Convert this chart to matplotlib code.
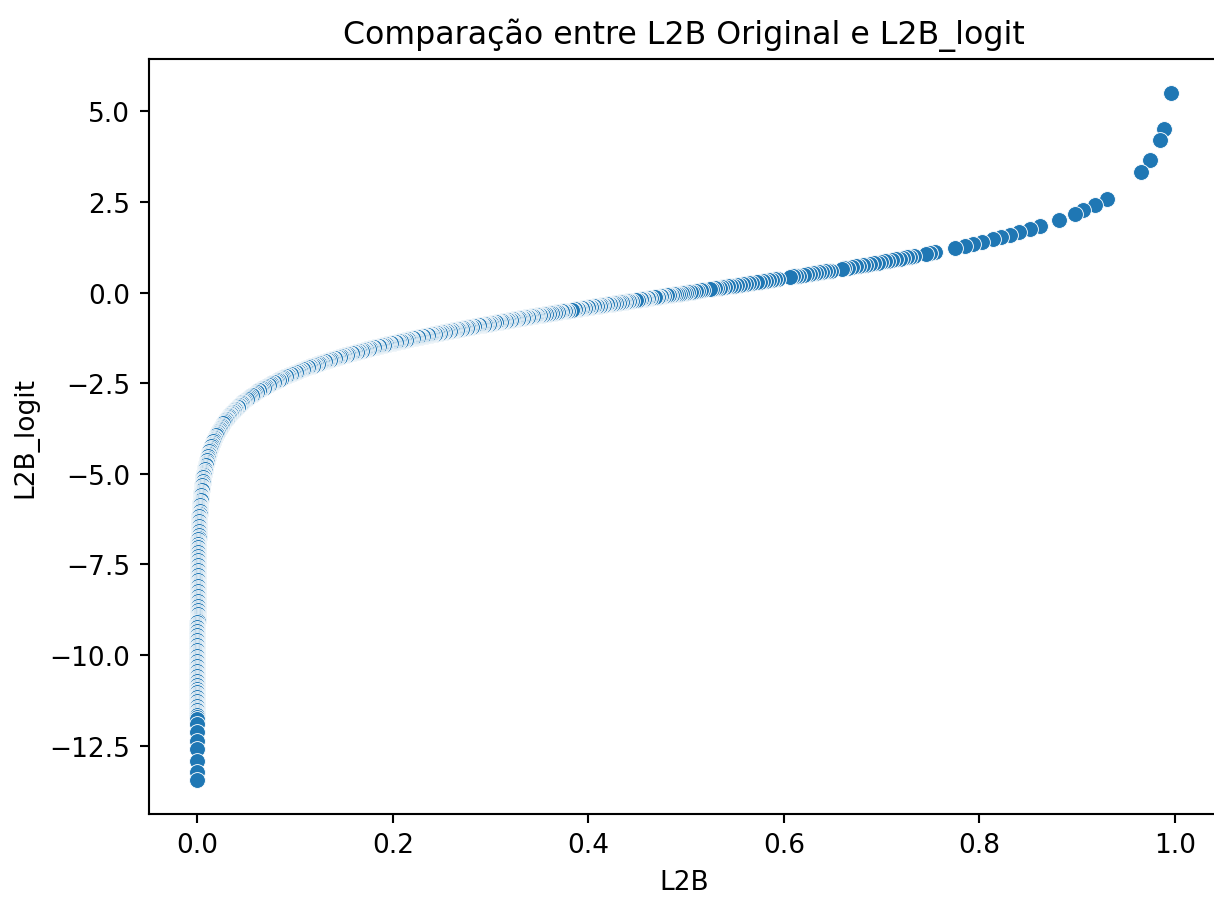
import matplotlib
matplotlib.use("Agg")
import matplotlib.pyplot as plt
import pandas as pd
import seaborn as sns

# Values, listed low to high.
# Near zero the curve is vertical, so the logit was read first there.
low_logit = [
    -13.44, -13.23, -12.92, -12.60, -12.37, -12.13, -11.90, -11.77,
    -11.70, -11.66, -11.63, -11.59, -11.56, -11.52, -11.49, -11.45, -11.42, -11.38, -11.35,
    -11.31, -11.28, -11.24, -11.21, -11.17, -11.14, -11.10, -11.07, -11.03, -11.00,
    -10.98, -10.94, -10.91, -10.87, -10.84, -10.80, -10.77, -10.73, -10.70, -10.66, -10.63, -10.59, -10.56, -10.52, -10.49,
    -10.45, -10.42, -10.38, -10.35, -10.31, -10.28, -10.24, -10.21, -10.17, -10.14, -10.10, -10.07, -10.03, -10.00,
    -9.98, -9.94, -9.91, -9.87, -9.84, -9.80, -9.77, -9.73, -9.70, -9.66, -9.63, -9.59, -9.56, -9.52, -9.49,
    -9.45, -9.42, -9.38, -9.35, -9.31, -9.28, -9.24, -9.21, -9.17, -9.14, -9.10, -9.07, -9.03, -9.00,
    -8.98, -8.94, -8.91, -8.87, -8.84, -8.80, -8.77, -8.73, -8.70, -8.66, -8.63, -8.59, -8.56, -8.52, -8.49,
    -8.45, -8.42, -8.38, -8.35, -8.31, -8.28, -8.24, -8.21, -8.17, -8.14, -8.10, -8.07, -8.03, -8.00,
    -7.98, -7.94, -7.91, -7.87, -7.84, -7.80, -7.77, -7.73, -7.70, -7.66, -7.63, -7.59, -7.56, -7.52, -7.49,
    -7.45, -7.42, -7.38, -7.35, -7.31, -7.28, -7.24, -7.21, -7.17, -7.14, -7.10, -7.07, -7.03, -7.00,
    -6.98, -6.94, -6.91, -6.87, -6.84, -6.80, -6.77, -6.73, -6.70, -6.66, -6.63, -6.59, -6.56, -6.52, -6.49,
    -6.45, -6.42, -6.38, -6.35, -6.31, -6.28, -6.24, -6.21, -6.17, -6.14, -6.10, -6.07, -6.03, -6.00,
    -5.98, -5.94, -5.91, -5.87, -5.84, -5.80, -5.77, -5.73, -5.70, -5.66, -5.63, -5.59, -5.56, -5.52, -5.49,
    -5.45, -5.42, -5.38, -5.35, -5.31, -5.28, -5.24, -5.21, -5.17, -5.14, -5.10, -5.07, -5.03, -5.00,
]
low_l2b = [
    0.00000146, 0.00000180, 0.00000245, 0.00000337, 0.00000424, 0.00000540, 0.00000679, 0.00000773,
    0.00000829, 0.00000863, 0.00000890, 0.00000926, 0.00000954, 0.00000993, 0.0000102, 0.0000106, 0.0000110, 0.0000114, 0.0000118,
    0.0000122, 0.0000126, 0.0000131, 0.0000135, 0.0000141, 0.0000145, 0.0000151, 0.0000156, 0.0000162, 0.0000167,
    0.0000170, 0.0000177, 0.0000183, 0.0000190, 0.0000196, 0.0000204, 0.0000210, 0.0000219, 0.0000225, 0.0000235, 0.0000242, 0.0000252, 0.0000259, 0.0000270, 0.0000278,
    0.0000289, 0.0000298, 0.0000310, 0.0000320, 0.0000333, 0.0000343, 0.0000357, 0.0000368, 0.0000383, 0.0000395, 0.0000411, 0.0000423, 0.0000441, 0.0000454,
    0.0000463, 0.0000482, 0.0000497, 0.0000517, 0.0000533, 0.0000555, 0.0000571, 0.0000595, 0.0000613, 0.0000638, 0.0000657, 0.0000684, 0.0000705, 0.0000734, 0.0000756,
    0.0000787, 0.0000811, 0.0000844, 0.0000870, 0.0000905, 0.0000933, 0.0000971, 0.0001000, 0.0001041, 0.0001073, 0.0001117, 0.0001151, 0.0001198, 0.0001234,
    0.0001259, 0.0001310, 0.0001350, 0.0001405, 0.0001448, 0.0001507, 0.0001553, 0.0001617, 0.0001666, 0.0001734, 0.0001787, 0.0001860, 0.0001916, 0.0001994, 0.0002055,
    0.0002139, 0.0002204, 0.0002294, 0.0002364, 0.0002460, 0.0002535, 0.0002639, 0.0002719, 0.0002830, 0.0002916, 0.0003035, 0.0003128, 0.0003255, 0.0003355,
    0.0003422, 0.0003562, 0.0003671, 0.0003820, 0.0003937, 0.0004097, 0.0004222, 0.0004394, 0.0004528, 0.0004713, 0.0004857, 0.0005055, 0.0005209, 0.0005421, 0.0005586,
    0.0005814, 0.0005991, 0.0006236, 0.0006426, 0.0006688, 0.0006892, 0.0007173, 0.0007392, 0.0007693, 0.0007928, 0.0008251, 0.0008502, 0.0008849, 0.0009111,
    0.0009294, 0.0009673, 0.0009968, 0.0010374, 0.0010690, 0.0011125, 0.0011464, 0.0011931, 0.0012294, 0.0012795, 0.0013184, 0.0013722, 0.0014139, 0.0014715, 0.0015162,
    0.0015780, 0.0016260, 0.0016923, 0.0017437, 0.0018147, 0.0018699, 0.0019461, 0.0020052, 0.0020869, 0.0021503, 0.0022378, 0.0023059, 0.0023997, 0.0024726,
    0.0025224, 0.0026251, 0.0027049, 0.0028149, 0.0029004, 0.0030184, 0.0031101, 0.0032366, 0.0033348, 0.0034704, 0.0035757, 0.0037211, 0.0038340, 0.0039899, 0.0041109,
    0.0042779, 0.0044076, 0.0045867, 0.0047257, 0.0049176, 0.0050666, 0.0052722, 0.0054319, 0.0056524, 0.0058235, 0.0060598, 0.0062432, 0.0064963, 0.0066929,
]

# the bend, logit -5 to -3
bend_logit = [
    -4.98, -4.94, -4.91, -4.87, -4.84, -4.80, -4.77, -4.73, -4.70, -4.66, -4.63, -4.59, -4.56, -4.52, -4.49,
    -4.45, -4.42, -4.38, -4.35, -4.31, -4.28, -4.24, -4.21, -4.17, -4.14, -4.10, -4.07, -4.03, -4.00,
    -3.97, -3.94, -3.91, -3.88, -3.85, -3.82, -3.79, -3.76, -3.73, -3.70, -3.67, -3.64, -3.61, -3.58, -3.55, -3.52,
    -3.50, -3.48, -3.46, -3.43, -3.41, -3.39, -3.37, -3.35, -3.33, -3.30, -3.28, -3.26,
    -3.24, -3.22, -3.20, -3.18, -3.15, -3.13, -3.11, -3.09, -3.07, -3.05, -3.03, -3.01,
]
bend_l2b = [
    0.0068271, 0.0071038, 0.0073185, 0.0076149, 0.0078450, 0.0081626, 0.0084091, 0.0087492, 0.0090133, 0.0093777,
    0.0096605, 0.0100508, 0.0103537, 0.0107717, 0.0110961,
    0.0115437, 0.0118911, 0.0123704, 0.0127423, 0.0132554, 0.0136536, 0.0142029, 0.0146291, 0.0152171, 0.0156732,
    0.0163025, 0.0167906, 0.0174639, 0.0179862,
    0.0185239, 0.0190772, 0.0196468, 0.0202330, 0.0208364, 0.0214573, 0.0220964, 0.0227539, 0.0234306, 0.0241269,
    0.0248436, 0.0255808, 0.0263394, 0.0271198, 0.0279226, 0.0287485,
    0.0293122, 0.0298867, 0.0304721, 0.0313709, 0.0319845, 0.0326095, 0.0332462, 0.0338954, 0.0345563, 0.0355710,
    0.0362637, 0.0369692,
    0.0376873, 0.0384199, 0.0391657, 0.0399251, 0.0410913, 0.0418866, 0.0426965, 0.0435217, 0.0443617, 0.0452176,
    0.0460891, 0.0469766,
]

# dense middle stretch, L2B 0.048 to 0.35
mid_l2b = [
    0.0480, 0.0490, 0.0505, 0.0515, 0.0530, 0.0540, 0.0555, 0.0565, 0.0580, 0.0590,
    0.0605, 0.0615, 0.0630, 0.0640, 0.0655, 0.0665, 0.0680, 0.0690, 0.0705, 0.0715,
    0.0730, 0.0740, 0.0755, 0.0765, 0.0780, 0.0790, 0.0805, 0.0815, 0.0830, 0.0840,
    0.0855, 0.0865, 0.0880, 0.0890, 0.0905, 0.0915, 0.0930, 0.0940, 0.0955, 0.0965,
    0.0980, 0.0990, 0.1005, 0.1015, 0.1030, 0.1040, 0.1055, 0.1065, 0.1080, 0.1090,
    0.1105, 0.1115, 0.1130, 0.1140, 0.1155, 0.1165, 0.1180, 0.1190, 0.1205, 0.1215,
    0.1230, 0.1240, 0.1255, 0.1265, 0.1280, 0.1290, 0.1305, 0.1315, 0.1330, 0.1340,
    0.1355, 0.1365, 0.1380, 0.1390, 0.1405, 0.1415, 0.1430, 0.1440, 0.1455, 0.1465,
    0.1480, 0.1490, 0.1505, 0.1515, 0.1530, 0.1540, 0.1555, 0.1565, 0.1580, 0.1590,
    0.1605, 0.1615, 0.1630, 0.1640, 0.1655, 0.1665, 0.1680, 0.1690, 0.1705, 0.1715,
    0.1730, 0.1740, 0.1755, 0.1765, 0.1780, 0.1790, 0.1805, 0.1815, 0.1830, 0.1840,
    0.1855, 0.1865, 0.1880, 0.1890, 0.1905, 0.1915, 0.1930, 0.1940, 0.1955, 0.1965,
    0.1980, 0.1990, 0.2005, 0.2015, 0.2030, 0.2040, 0.2055, 0.2065, 0.2080, 0.2090,
    0.2105, 0.2115, 0.2130, 0.2140, 0.2155, 0.2165, 0.2180, 0.2190, 0.2205, 0.2215,
    0.2230, 0.2240, 0.2255, 0.2265, 0.2280, 0.2290, 0.2305, 0.2315, 0.2330, 0.2340,
    0.2355, 0.2365, 0.2380, 0.2390, 0.2405, 0.2415, 0.2430, 0.2440, 0.2455, 0.2465,
    0.2480, 0.2490, 0.2505, 0.2515, 0.2530, 0.2540, 0.2555, 0.2565, 0.2580, 0.2590,
    0.2605, 0.2615, 0.2630, 0.2640, 0.2655, 0.2665, 0.2680, 0.2690, 0.2705, 0.2715,
    0.2730, 0.2740, 0.2755, 0.2765, 0.2780, 0.2790, 0.2805, 0.2815, 0.2830, 0.2840,
    0.2855, 0.2865, 0.2880, 0.2890, 0.2905, 0.2915, 0.2930, 0.2940, 0.2955, 0.2965,
    0.2980, 0.2990, 0.3005, 0.3015, 0.3030, 0.3040, 0.3055, 0.3065, 0.3080, 0.3090,
    0.3105, 0.3115, 0.3130, 0.3140, 0.3155, 0.3165, 0.3180, 0.3190, 0.3205, 0.3215,
    0.3230, 0.3240, 0.3255, 0.3265, 0.3280, 0.3290, 0.3305, 0.3315, 0.3330, 0.3340,
    0.3355, 0.3365, 0.3380, 0.3390, 0.3405, 0.3415, 0.3430, 0.3440, 0.3455, 0.3465,
    0.3480, 0.3490,
]
mid_logit = [
    -2.9874, -2.9657, -2.9340, -2.9133, -2.8830, -2.8633, -2.8343, -2.8154, -2.7876, -2.7694,
    -2.7427, -2.7252, -2.6995, -2.6827, -2.6580, -2.6417, -2.6178, -2.6022, -2.5790, -2.5639,
    -2.5415, -2.5268, -2.5051, -2.4909, -2.4698, -2.4560, -2.4356, -2.4221, -2.4023, -2.3892,
    -2.3699, -2.3571, -2.3383, -2.3259, -2.3075, -2.2955, -2.2775, -2.2657, -2.2483, -2.2367,
    -2.2196, -2.2084, -2.1917, -2.1807, -2.1643, -2.1535, -2.1376, -2.1270, -2.1113, -2.1010,
    -2.0856, -2.0755, -2.0605, -2.0505, -2.0358, -2.0260, -2.0115, -2.0019, -1.9877, -1.9783,
    -1.9643, -1.9551, -1.9413, -1.9323, -1.9188, -1.9098, -1.8965, -1.8878, -1.8747, -1.8660,
    -1.8532, -1.8447, -1.8320, -1.8236, -1.8111, -1.8029, -1.7906, -1.7825, -1.7703, -1.7623,
    -1.7504, -1.7425, -1.7307, -1.7229, -1.7113, -1.7036, -1.6921, -1.6845, -1.6732, -1.6657,
    -1.6545, -1.6471, -1.6361, -1.6288, -1.6179, -1.6106, -1.5999, -1.5927, -1.5821, -1.5750,
    -1.5645, -1.5575, -1.5471, -1.5402, -1.5300, -1.5231, -1.5130, -1.5062, -1.4962, -1.4895,
    -1.4795, -1.4729, -1.4631, -1.4565, -1.4468, -1.4403, -1.4306, -1.4242, -1.4147, -1.4083,
    -1.3988, -1.3926, -1.3832, -1.3769, -1.3676, -1.3615, -1.3523, -1.3462, -1.3370, -1.3310,
    -1.3219, -1.3159, -1.3069, -1.3010, -1.2921, -1.2862, -1.2774, -1.2715, -1.2628, -1.2569,
    -1.2483, -1.2425, -1.2339, -1.2282, -1.2196, -1.2140, -1.2055, -1.1999, -1.1914, -1.1859,
    -1.1775, -1.1720, -1.1637, -1.1582, -1.1499, -1.1445, -1.1363, -1.1309, -1.1228, -1.1174,
    -1.1093, -1.1040, -1.0959, -1.0906, -1.0827, -1.0774, -1.0695, -1.0642, -1.0564, -1.0512,
    -1.0434, -1.0382, -1.0304, -1.0253, -1.0176, -1.0125, -1.0048, -0.9997, -0.9921, -0.9870,
    -0.9795, -0.9744, -0.9669, -0.9619, -0.9544, -0.9494, -0.9420, -0.9370, -0.9296, -0.9247,
    -0.9173, -0.9124, -0.9051, -0.9002, -0.8930, -0.8881, -0.8809, -0.8760, -0.8688, -0.8640,
    -0.8568, -0.8521, -0.8449, -0.8402, -0.8331, -0.8283, -0.8212, -0.8165, -0.8095, -0.8048,
    -0.7978, -0.7931, -0.7861, -0.7815, -0.7745, -0.7699, -0.7630, -0.7584, -0.7515, -0.7469,
    -0.7400, -0.7355, -0.7286, -0.7241, -0.7172, -0.7127, -0.7059, -0.7014, -0.6946, -0.6901,
    -0.6834, -0.6789, -0.6722, -0.6678, -0.6611, -0.6566, -0.6500, -0.6455, -0.6389, -0.6345,
    -0.6278, -0.6234,
]

# upper part, points thin out towards 1
upper_l2b = [
    0.3505, 0.3520, 0.3535, 0.3550, 0.3565, 0.3580, 0.3595, 0.3610, 0.3625, 0.3640,
    0.3655, 0.3670, 0.3685, 0.3700, 0.3715, 0.3730, 0.3745, 0.3760, 0.3775, 0.3790,
    0.3830, 0.3845, 0.3860, 0.3875, 0.3890, 0.3905, 0.3920, 0.3935, 0.3950, 0.3965,
    0.3980, 0.3995, 0.4010, 0.4025, 0.4040, 0.4055, 0.4070, 0.4085, 0.4100, 0.4115,
    0.4130, 0.4145, 0.4160, 0.4175, 0.4190, 0.4205, 0.4220, 0.4235, 0.4250, 0.4265,
    0.4280, 0.4295, 0.4310, 0.4325, 0.4340, 0.4355, 0.4370, 0.4385, 0.4400, 0.4415,
    0.4430, 0.4445, 0.4490, 0.4505, 0.4520, 0.4535, 0.4550, 0.4565, 0.4580, 0.4595,
    0.4610, 0.4625, 0.4640, 0.4680, 0.4695, 0.4710, 0.4725, 0.4740, 0.4755, 0.4770,
    0.4810, 0.4825, 0.4840, 0.4860, 0.4880, 0.4900, 0.4920, 0.4940, 0.4960, 0.4980,
    0.5000, 0.5025, 0.5050, 0.5075, 0.5100, 0.5125, 0.5150, 0.5175, 0.5246, 0.5270,
    0.5295, 0.5320, 0.5345, 0.5370, 0.5400, 0.5430, 0.5460, 0.5490, 0.5520, 0.5550,
    0.5580, 0.5610, 0.5640, 0.5670, 0.5730, 0.5760, 0.5790, 0.5820, 0.5850, 0.5880,
    0.5910, 0.5940, 0.6066, 0.6095, 0.6125, 0.6155, 0.6210, 0.6240, 0.6270, 0.6300,
    0.6330, 0.6360, 0.6390, 0.6420, 0.6450, 0.6480, 0.6594, 0.6620, 0.6660, 0.6695,
    0.6735, 0.6770, 0.6810, 0.6845, 0.6885, 0.6920, 0.6960, 0.6995, 0.7035, 0.7070,
    0.7110, 0.7145, 0.7185, 0.7220, 0.7260, 0.7295, 0.7335, 0.7460, 0.7495, 0.7550,
    0.7753, 0.7850, 0.7940, 0.8030, 0.8146, 0.8220, 0.8316, 0.8410, 0.8521, 0.8623,
    0.8821, 0.8982, 0.9067, 0.9186, 0.9306, 0.9658, 0.9747, 0.9852, 0.9890, 0.9959,
]
upper_logit = [
    -0.6168, -0.6103, -0.6037, -0.5971, -0.5906, -0.5841, -0.5775, -0.5710, -0.5645, -0.5580,
    -0.5516, -0.5451, -0.5387, -0.5322, -0.5258, -0.5194, -0.5130, -0.5066, -0.5002, -0.4938,
    -0.4768, -0.4705, -0.4642, -0.4578, -0.4515, -0.4452, -0.4389, -0.4326, -0.4263, -0.4201,
    -0.4138, -0.4075, -0.4013, -0.3951, -0.3888, -0.3826, -0.3764, -0.3702, -0.3640, -0.3578,
    -0.3516, -0.3454, -0.3392, -0.3330, -0.3269, -0.3207, -0.3146, -0.3084, -0.3023, -0.2961,
    -0.2900, -0.2839, -0.2778, -0.2717, -0.2655, -0.2594, -0.2533, -0.2473, -0.2412, -0.2351,
    -0.2290, -0.2229, -0.2047, -0.1987, -0.1926, -0.1865, -0.1805, -0.1744, -0.1684, -0.1624,
    -0.1563, -0.1503, -0.1442, -0.1282, -0.1222, -0.1161, -0.1101, -0.1041, -0.0981, -0.0921,
    -0.0760, -0.0700, -0.0640, -0.0560, -0.0480, -0.0400, -0.0320, -0.0240, -0.0160, -0.0080,
    0.0000, 0.0100, 0.0200, 0.0300, 0.0400, 0.0500, 0.0600, 0.0700, 0.0985, 0.1081,
    0.1181, 0.1282, 0.1382, 0.1483, 0.1603, 0.1724, 0.1845, 0.1966, 0.2088, 0.2209,
    0.2330, 0.2452, 0.2574, 0.2696, 0.2941, 0.3064, 0.3187, 0.3310, 0.3433, 0.3557,
    0.3681, 0.3805, 0.4330, 0.4452, 0.4578, 0.4705, 0.4938, 0.5066, 0.5194, 0.5322,
    0.5451, 0.5580, 0.5710, 0.5841, 0.5971, 0.6103, 0.6606, 0.6722, 0.6901, 0.7059,
    0.7241, 0.7400, 0.7584, 0.7745, 0.7931, 0.8095, 0.8283, 0.8449, 0.8640, 0.8809,
    0.9002, 0.9173, 0.9370, 0.9544, 0.9744, 0.9921, 1.0125, 1.0774, 1.0959, 1.1254,
    1.2385, 1.2951, 1.3492, 1.4052, 1.4802, 1.5298, 1.5970, 1.6657, 1.7512, 1.8345,
    2.0125, 2.1774, 2.2740, 2.4235, 2.5960, 3.34, 3.65, 4.20, 4.51, 5.50,
]

df = pd.DataFrame({
    "L2B": low_l2b + bend_l2b + mid_l2b + upper_l2b,
    "L2B_logit": low_logit + bend_logit + mid_logit + upper_logit,
})
# rows are drawn high to low, so the points near zero end up on top
df = df.sort_values("L2B", ascending=False)

fig = plt.figure(figsize=(6.39, 4.7263), dpi=190)
# right spine falls just outside the canvas, like the reference crop
ax = fig.add_axes([0.1225, 0.0924, 0.8818, 0.8408])
# thin white edge so a little fill shows through where the points pile up
sns.scatterplot(data=df, x="L2B", y="L2B_logit", ax=ax, linewidth=0.33)
ax.set_title("Comparação entre L2B Original e L2B_logit")

fig.savefig("out.png", dpi=190)
